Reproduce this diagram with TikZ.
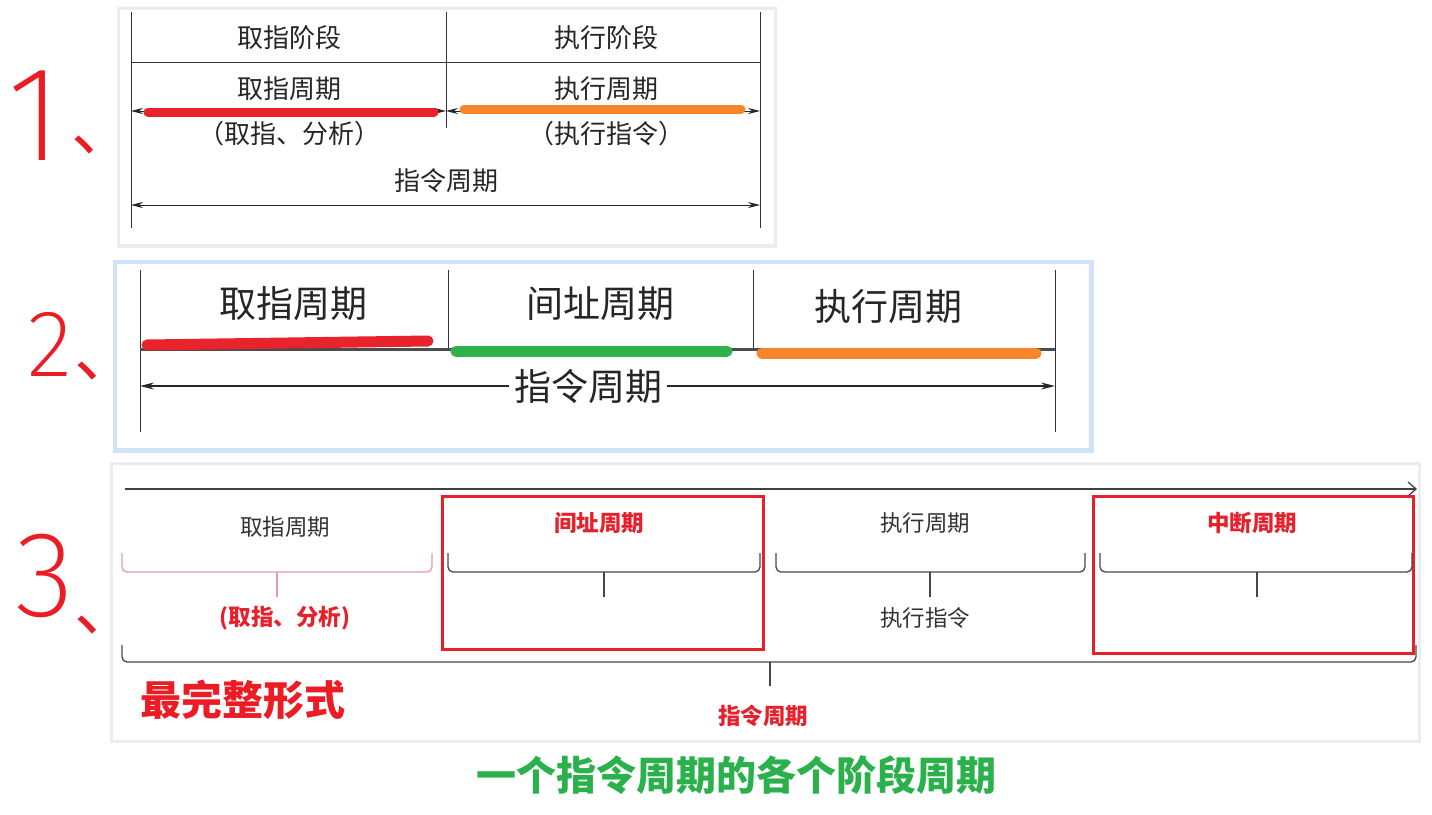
\documentclass[tikz,border=0pt]{standalone}
\usepackage{fontspec}
\setmainfont{Noto Sans CJK SC}
\IfFontExistsTF{Fira Sans ExtraLight}
  {\newfontfamily\handfont{Fira Sans ExtraLight}}
  {\IfFontExistsTF{Lato Light}
    {\newfontfamily\handfont{Lato Light}}
    {\IfFontExistsTF{DejaVu Sans ExtraLight}
      {\newfontfamily\handfont{DejaVu Sans ExtraLight}}
      {\newfontfamily\handfont{Liberation Sans}}}}
\usepackage{xcolor}
\definecolor{hwred}{HTML}{EC1C24}
\definecolor{barred}{HTML}{E8232B}
\definecolor{barorange}{HTML}{F7862B}
\definecolor{bargreen}{HTML}{2EB24C}
\definecolor{capgreen}{HTML}{2BB14B}
\definecolor{boxred}{HTML}{E7202C}
\definecolor{bracepink}{HTML}{E79AA3}
\definecolor{txtgray}{HTML}{333333}
\definecolor{glowblue}{HTML}{CFE2F8}
\usetikzlibrary{arrows.meta,positioning,calc}

\tikzset{
  shadowbox/.style={fill=black!7},
  tick/.style={draw=black!80,line width=1pt},
  dimline/.style={draw=black!85,line width=0.9pt,{Stealth[length=12pt,width=6pt]}-{Stealth[length=12pt,width=6pt]}},
  bar/.style={line width=9pt,line cap=round},
  lbl/.style={font=\fontsize{26}{29}\selectfont,text=black!85,inner sep=1pt},
  biglbl/.style={font=\fontsize{37}{42}\selectfont,text=black!85,inner sep=5pt},
  smalllbl/.style={font=\fontsize{22.5}{26}\selectfont,text=txtgray,inner sep=1pt},
  redlbl/.style={font=\bfseries\fontsize{22.5}{26}\selectfont,text=boxred,inner sep=1pt},
  hand/.style={font=\handfont,text=hwred,inner sep=0pt},
  cycbox/.style={draw=boxred,line width=3pt},
  curly/.style={draw=black!72,line width=1.3pt,rounded corners=5pt},
}

\begin{document}
\begin{tikzpicture}[x=1pt,y=-1pt]
\useasboundingbox (0,0) rectangle (1432,814);
\fill[white] (0,0) rectangle (1432,814);

% handwritten numbers
\node[hand,font=\handfont\fontsize{135}{135}\selectfont,anchor=base] (num1) at (35,160) {1};
\node[hand,font=\fontsize{65}{65}\selectfont,anchor=base west] (num1c) at (71,150) {、};
\node[hand,font=\handfont\fontsize{95}{95}\selectfont,anchor=base] (num2) at (50,376) {2};
\node[hand,font=\fontsize{65}{65}\selectfont,anchor=base west] (num2c) at (74,376) {、};
\node[hand,font=\handfont\fontsize{122}{122}\selectfont,anchor=base] (num3) at (45,616) {3};
\node[hand,font=\fontsize{65}{65}\selectfont,anchor=base west] (num3c) at (74,630) {、};

% panel 1
\fill[shadowbox] (117,7) rectangle (777,248);
\fill[white] (120,10) rectangle (774,244);
\coordinate (p1l) at (131,12);
\coordinate (p1m) at (446,12);
\coordinate (p1r) at (760,12);
\draw[tick] (p1l) -- ++(0,216);
\draw[tick] (p1r) -- ++(0,216);
\draw[tick] (p1m) -- ++(0,116);
\draw[tick] (p1l |- 0,62) -- (p1r |- 0,62);
\node[lbl] (fetchstage) at (289,38) {取指阶段};
\node[lbl] (execstage) at (606,38) {执行阶段};
\node[lbl] (fetchcyc1) at (289,89) {取指周期};
\node[lbl] (execcyc1) at (606,89) {执行周期};
\draw[dimline] (p1l |- 0,111) coordinate (f1a) -- (p1m |- 0,111) coordinate (f1b);
\draw[dimline] (f1b) -- (p1r |- 0,111) coordinate (f1c);
\draw[bar,barred] (148,112) -- (434,112);
\draw[bar,barorange] (464,109) -- (741,109);
\node[lbl] (fetchnote1) at (289,134) {（取指、分析）};
\node[lbl] (execnote1) at (606,134) {（执行指令）};
\node[lbl] (icyc1) at (446,181) {指令周期};
\draw[dimline] (p1l |- 0,205) -- (p1r |- 0,205);

% panel 2
\draw[glowblue,line width=5pt] (115,262) rectangle (1091,450);
\fill[white] (117,264) rectangle (1089,448);
\coordinate (p2a) at (140,270);
\coordinate (p2b) at (448,270);
\coordinate (p2c) at (753,270);
\coordinate (p2d) at (1055,270);
\draw[tick] (p2a) -- ++(0,162);
\draw[tick] (p2d) -- ++(0,162);
\draw[tick] (p2b) -- ++(0,78);
\draw[tick] (p2c) -- ++(0,78);
\draw[black!70,line width=3pt] (p2a |- 0,349) -- (p2d |- 0,349);
\node[biglbl] (fetchcyc2) at (293,304) {取指周期};
\node[biglbl] (indcyc2) at (600,304) {间址周期};
\node[biglbl] (execcyc2) at (888,307) {执行周期};
\draw[line width=11pt,line cap=round,barred] (147,345) -- (428,341);
\draw[line width=11pt,line cap=round,bargreen] (456,351) -- (727,351);
\draw[line width=11pt,line cap=round,barorange] (762,353) -- (1036,353);
\node[biglbl] (icyc2) at (588,386) {指令周期};
\draw[black!85,line width=1.3pt,-{Stealth[length=14pt,width=7pt]}] (icyc2.west) -- (p2a |- icyc2.west);
\draw[black!85,line width=1.3pt,-{Stealth[length=14pt,width=7pt]}] (icyc2.east) -- (p2d |- icyc2.east);

% panel 3
\fill[shadowbox] (110,462) rectangle (1421,743);
\fill[white] (113,465) rectangle (1418,740);
\coordinate (t0) at (125,489);
\coordinate (t1) at (1417,489);
\draw[black!75,line width=1.3pt,-{Straight Barb[length=8pt,width=14pt]}] (t0) -- (t1);
\draw[cycbox] (442,496) rectangle (763,649);
\draw[cycbox] (1093,496) rectangle (1413,653);
\node[smalllbl] (fetchcyc3) at (285,527) {取指周期};
\node[redlbl] (indcyc3) at (599,523) {间址周期};
\node[smalllbl] (execcyc3) at (925,523) {执行周期};
\node[redlbl] (intcyc3) at (1252,523) {中断周期};
\draw[curly,draw=bracepink] (122,553) -- (122,572) -- (432,572) -- (432,553);
\draw[curly,draw=bracepink] (277,572) -- (277,597);
\foreach \xa/\xb/\xm in {448/760/604, 776/1085/930, 1100/1412/1257}{
  \draw[curly] (\xa,553) -- (\xa,572) -- (\xb,572) -- (\xb,553);
  \draw[curly] (\xm,572) -- (\xm,597);
}
\node[redlbl] (fetchnote3) at (285,618) {(取指、分析)};
\node[smalllbl] (execnote3) at (925,618) {执行指令};
\draw[curly] (122,645) -- (122,662) -- (1416,662) -- (1416,645);
\draw[curly] (770,662) -- (770,686);
\node[redlbl] (icyc3) at (763,716) {指令周期};
\node[font=\bfseries\fontsize{41}{46}\selectfont,text=hwred,inner sep=0pt] (fullform) at (243,700) {最完整形式};

% caption
\node[font=\bfseries\fontsize{40}{45}\selectfont,text=capgreen,inner sep=0pt] (caption) at (736,775) {一个指令周期的各个阶段周期};
\end{tikzpicture}
\end{document}
